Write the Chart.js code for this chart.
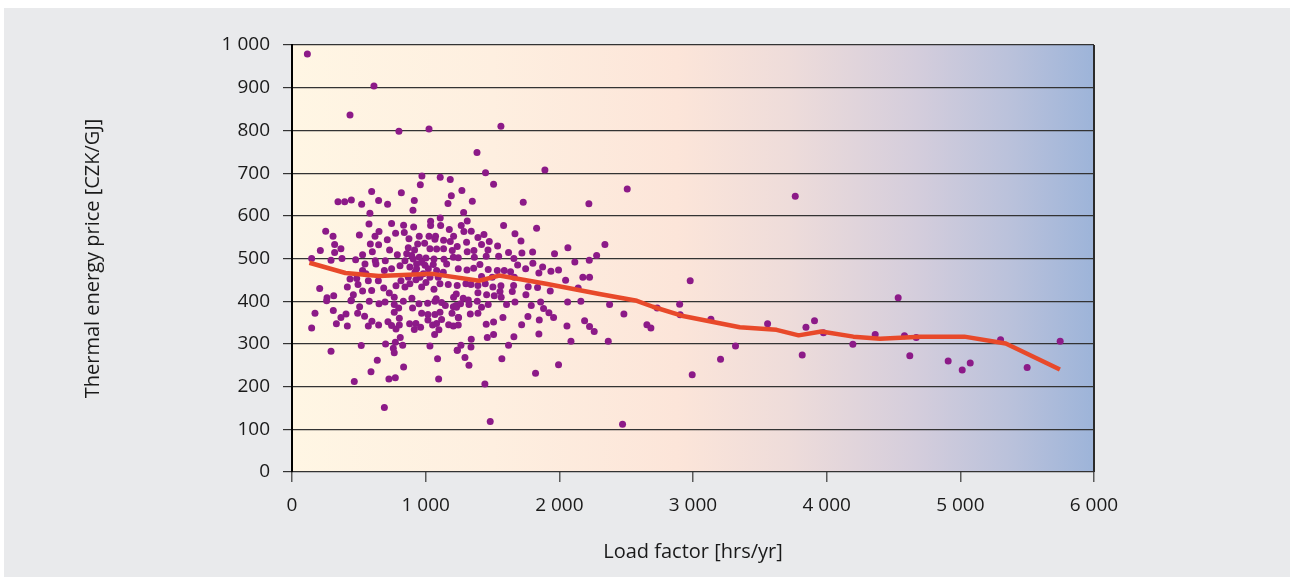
<!DOCTYPE html>
<html><head><meta charset="utf-8">
<script src="https://cdn.jsdelivr.net/npm/chart.js@4"></script>
<style>html,body{margin:0;padding:0;background:#fff;} #wrap{width:1290px;height:577px;position:relative;}</style>
</head><body><div id="wrap"><canvas id="c"></canvas></div>
<script>
const xTickLabels = ['0', '1 000', '2 000', '3 000', '4 000', '5 000', '6 000'];
const yTickLabels = ['0', '100', '200', '300', '400', '500', '600', '700', '800', '900', '1 000'];
const xAxisTitle = 'Load factor [hrs/yr]';
const yAxisTitle = 'Thermal energy price [CZK/GJ]';

// Trend line (load factor, price)
const trendX = [130, 400, 650, 1050, 1400, 1550, 1900, 2300, 2580, 2700, 2915, 3350, 3625, 3790, 3960, 4200, 4400, 4700, 5030, 5340, 5745];
const trendY = [490, 466, 459, 464, 448, 460, 441, 417, 401, 387, 366, 339, 333, 320, 329, 317, 312, 317, 317, 301, 240];

// Scatter points [load factor, price], grouped by region of the picture
const outlierPoints = [[115,979],[613,904],[434,836],[800,798],[1025,803],[1563,810],[3765,646],[2508,663]];
const clusterUpperLeft = [[972,693],[1109,690],[1184,685],[960,673],[596,657],[818,654],[344,633],[394,633],[444,637],[521,627],[648,636],[715,627],[915,636],[905,613],[1167,629],[1192,647],[583,606],[1109,595],[1037,587],[576,581],[745,582],[835,578],[910,574],[1037,577],[1112,577],[1177,568],[252,564],[307,552],[504,555],[651,563],[621,552],[775,559],[840,561],[952,552],[1025,552],[1074,552],[1134,543],[1209,552],[319,533],[366,523],[212,519],[319,514],[586,534],[648,532],[713,544],[875,546],[940,534],[992,536],[1069,545],[1184,540],[147,500],[292,496],[374,500],[476,497],[528,509],[601,516],[730,520],[788,509],[858,511],[870,525],[917,520],[1032,523],[1082,522],[1134,523],[1199,519],[546,487],[623,495],[698,495],[845,495],[907,499],[952,503],[1002,501],[1062,499],[1137,498],[1207,503],[434,452],[484,453],[528,472],[553,464],[628,487],[691,472],[745,476],[808,483],[882,480],[932,487],[995,484],[1057,486],[1157,487],[207,430],[262,408],[312,413],[414,433],[459,415],[494,439],[528,424],[571,448],[596,425],[646,448],[686,431],[728,419],[778,436],[815,448],[845,433],[882,441],[927,450],[970,433],[1002,444],[1062,428],[1107,441],[1169,439],[444,402],[765,409],[897,407],[1079,406],[1209,409],[895,507],[970,491],[1020,476],[1082,472],[920,468],[982,464],[1032,456],[870,456],[957,456],[1094,456],[932,476],[1132,468]];
const clusterUpperRight = [[1384,748],[1448,701],[1892,707],[1508,674],[1271,659],[1349,634],[1730,632],[2221,628],[1284,608],[1311,588],[1266,577],[1583,577],[1830,571],[1286,563],[1341,564],[1436,556],[1391,549],[1668,558],[1713,541],[1476,540],[1306,538],[1418,533],[1236,528],[1538,529],[2064,525],[2341,533],[1466,520],[1361,519],[1311,516],[1620,514],[1800,515],[1720,513],[1964,511],[2279,507],[1244,502],[1364,503],[1453,505],[1546,505],[1660,500],[2116,492],[2224,496],[1802,489],[1406,486],[1688,485],[1875,480],[1244,476],[1309,473],[1359,477],[1468,474],[1536,472],[1588,472],[1635,469],[1748,476],[1847,466],[1937,470],[1994,473],[1418,458],[1498,456],[1663,456],[2047,449],[2176,456],[2226,456],[1236,437],[1301,441],[1339,439],[1391,437],[1446,441],[1503,433],[1563,436],[1658,437],[1767,434],[1837,432],[2141,431],[1932,424],[1556,423],[1391,420],[1229,417],[1648,423],[1750,415],[1456,415],[1513,413],[1565,409],[1281,407],[1319,403]];
const clusterLowerLeft = [[259,401],[441,401],[578,400],[651,394],[696,398],[765,392],[833,400],[902,384],[950,394],[1015,395],[1069,400],[1119,397],[1147,390],[1207,387],[1227,390],[506,387],[172,372],[309,378],[404,370],[366,362],[491,372],[543,365],[332,347],[414,342],[147,337],[571,342],[598,353],[648,344],[718,352],[745,343],[778,335],[803,344],[803,360],[765,374],[798,384],[880,347],[927,348],[915,334],[962,339],[970,372],[1017,369],[1017,356],[1069,369],[1107,374],[1119,357],[1082,348],[1052,344],[1099,333],[1067,322],[1172,345],[1207,342],[1244,362],[1197,372],[810,315],[773,304],[828,297],[700,300],[518,296],[292,283],[758,290],[765,279],[1032,295],[1237,285],[638,262],[1089,265],[835,246],[591,235],[466,212],[725,218],[773,221],[1097,218],[691,151]];
const clusterLowerRight = [[1231,386],[1261,394],[1324,392],[1386,400],[1418,386],[1468,392],[1605,392],[1668,398],[1790,390],[1860,398],[1882,383],[1922,373],[1957,362],[2062,398],[2161,400],[2376,392],[2483,370],[1246,362],[1334,370],[1391,372],[1578,362],[1765,364],[1850,356],[1244,344],[1453,346],[1508,351],[1718,345],[2057,342],[2189,354],[2226,341],[2261,329],[1847,323],[1508,322],[1461,315],[1660,317],[1341,311],[1264,297],[1339,293],[1620,297],[2087,306],[2366,306],[1236,285],[1294,268],[1324,250],[1570,265],[1994,251],[1822,231],[1443,206],[1483,118],[2473,112]];
const highLoadPoints = [[2732,384],[2655,345],[2685,337],[2900,393],[2904,368],[2979,448],[2994,228],[3134,358],[3206,264],[3318,295],[3558,347],[3817,274],[3845,339],[3909,354],[3976,326],[4196,299],[4363,322],[4535,408],[4582,319],[4622,272],[4670,315],[4909,260],[5014,239],[5074,255],[5301,310],[5500,245],[5747,306]];

const allPoints = [].concat(outlierPoints, clusterUpperLeft, clusterUpperRight, clusterLowerLeft, clusterLowerRight, highLoadPoints)
  .map(p => ({x: p[0], y: p[1]}));
const trendData = trendX.map((x, i) => ({x: x, y: trendY[i]}));

const FONT = "'Open Sans', 'Noto Sans', sans-serif";

const bgPlugin = {
  id: 'bg',
  beforeDraw(chart) {
    const {ctx, chartArea: a} = chart;
    ctx.save();
    ctx.fillStyle = '#ffffff';
    ctx.fillRect(0, 0, chart.width, chart.height);
    ctx.fillStyle = '#e9eaec';
    ctx.fillRect(4, 8, chart.width - 4, chart.height - 8);
    const g = ctx.createLinearGradient(a.left, 0, a.right, 0);
    g.addColorStop(0, '#fff6e4');
    g.addColorStop(0.25, '#feefe0');
    g.addColorStop(0.48, '#fce5d9');
    g.addColorStop(0.62, '#eedcda');
    g.addColorStop(0.78, '#d4cddc');
    g.addColorStop(0.9, '#b9c1db');
    g.addColorStop(1, '#9db4d9');
    ctx.fillStyle = g;
    ctx.fillRect(a.left, a.top, a.right - a.left, a.bottom - a.top);
    ctx.restore();
  },
  afterDraw(chart) {
    const {ctx, chartArea: a} = chart;
    ctx.save();
    ctx.strokeStyle = '#2b2b2b';
    ctx.lineWidth = 2;
    ctx.beginPath();
    ctx.moveTo(a.right, a.top);
    ctx.lineTo(a.right, a.bottom);
    ctx.stroke();
    ctx.restore();
  }
};

new Chart(document.getElementById('c'), {
  type: 'scatter',
  data: {
    datasets: [
      {
        type: 'line',
        data: trendData,
        showLine: true,
        borderColor: '#e8492a',
        borderWidth: 4.5,
        borderJoinStyle: 'round',
        borderCapStyle: 'butt',
        pointRadius: 0,
        tension: 0,
        fill: false
      },
      {
        data: allPoints,
        backgroundColor: '#8c1a88',
        borderWidth: 0,
        pointRadius: 3.5
      }
    ]
  },
  options: {
    responsive: true,
    maintainAspectRatio: false,
    animation: false,
    events: [],
    layout: { padding: { left: 81, right: 196, top: 45, bottom: 0 } },
    plugins: { legend: { display: false }, tooltip: { enabled: false } },
    scales: {
      x: {
        type: 'linear', min: 0, max: 6000,
        afterFit(s) { s.height = 105; },
        ticks: {
          stepSize: 1000, padding: 12, maxRotation: 0,
          color: '#1a1a1a', font: { family: FONT, size: 19 },
          callback: (v, i) => xTickLabels[i]
        },
        grid: { drawOnChartArea: false, drawTicks: true, tickLength: 10, color: '#5a5a5a', lineWidth: 1.5 },
        border: { display: false },
        title: { display: true, text: xAxisTitle, color: '#1a1a1a', font: { family: FONT, size: 20 }, padding: { top: 0, bottom: 13 } }
      },
      y: {
        type: 'linear', min: 0, max: 1000,
        afterFit(s) { s.width = 211; },
        ticks: {
          stepSize: 100, padding: 13,
          color: '#1a1a1a', font: { family: FONT, size: 19 },
          callback: (v, i) => yTickLabels[i]
        },
        grid: { color: '#333333', lineWidth: 1.2, tickLength: 9, drawTicks: true },
        border: { display: true, color: '#000000', width: 2 },
        title: { display: true, text: yAxisTitle, color: '#1a1a1a', font: { family: FONT, size: 20 }, padding: { top: 0, bottom: 0 } }
      }
    }
  },
  plugins: [bgPlugin]
});
</script>
</body></html>
